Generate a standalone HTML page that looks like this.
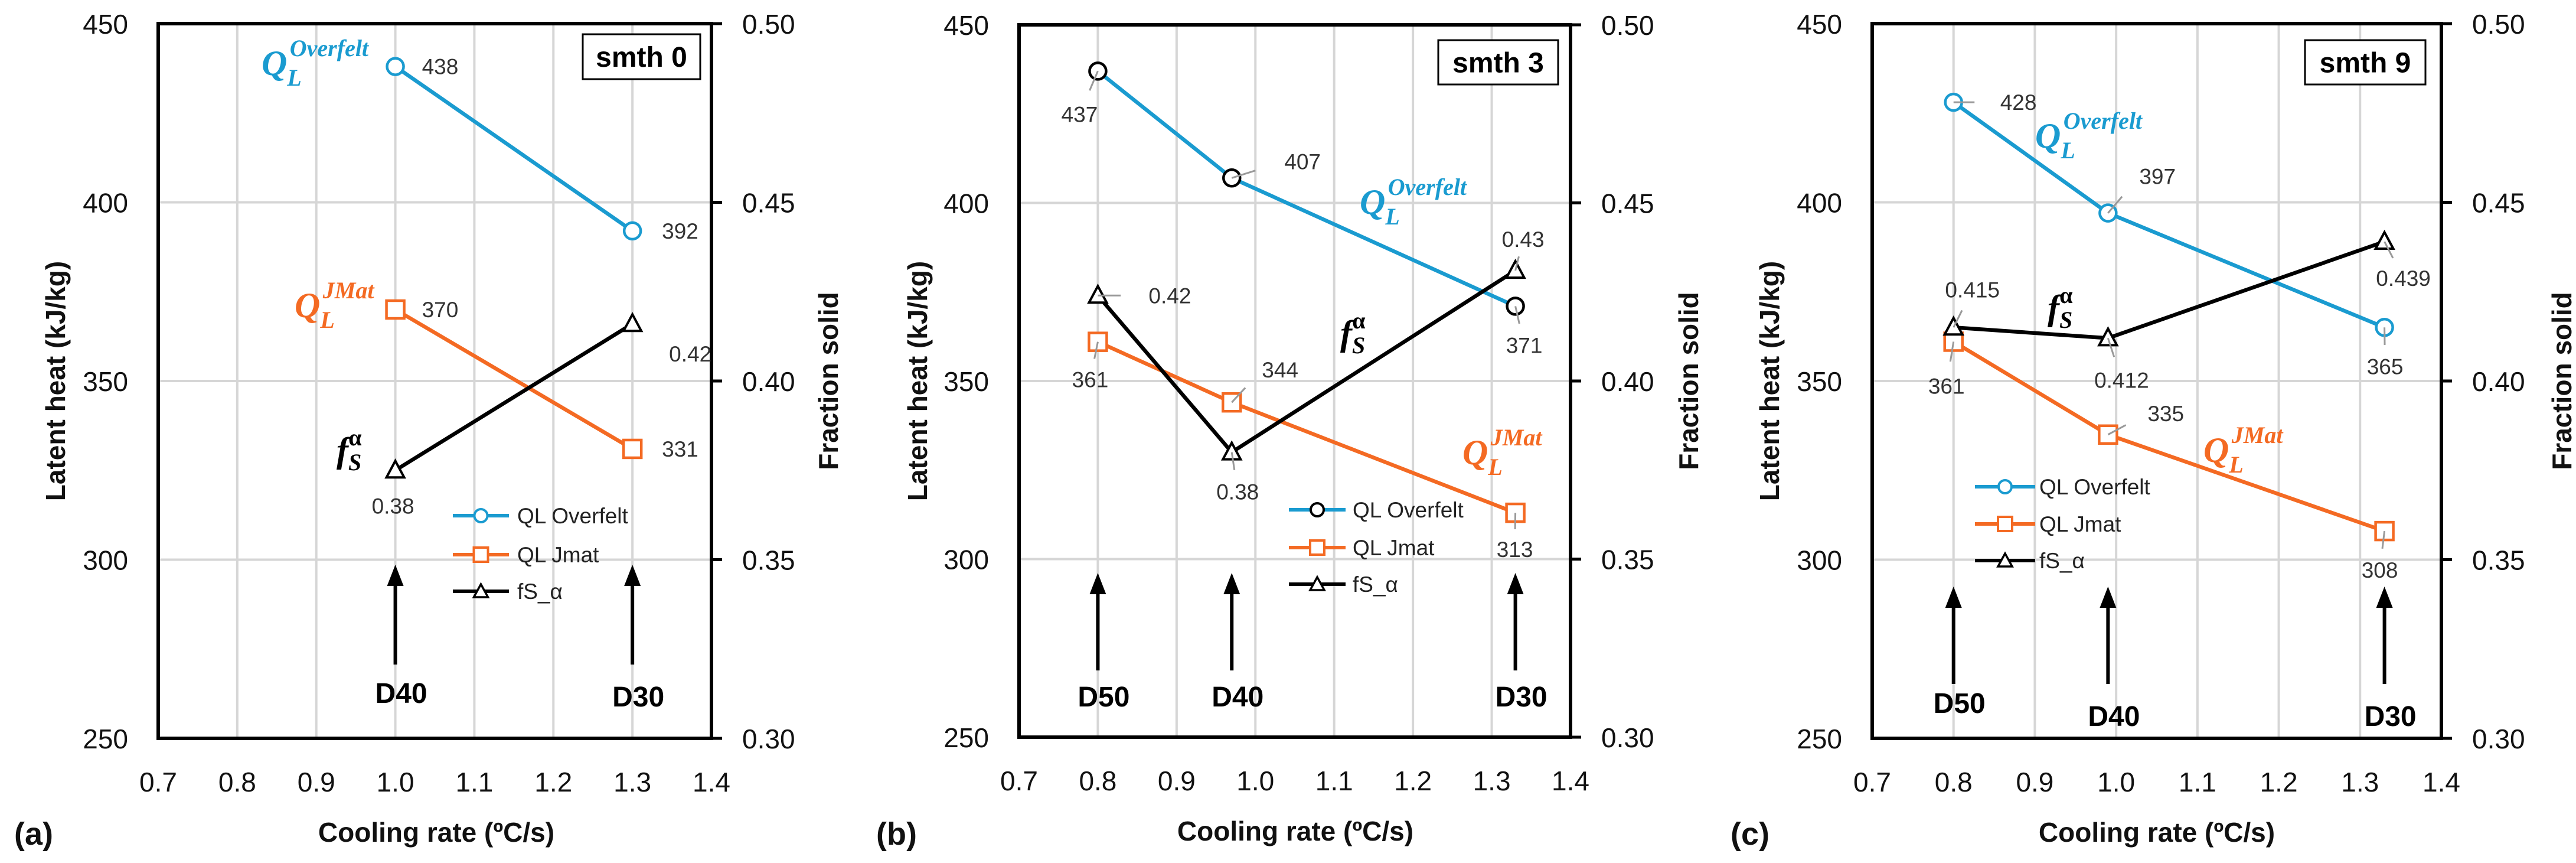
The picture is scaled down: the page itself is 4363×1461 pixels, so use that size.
<!DOCTYPE html>
<html><head><meta charset="utf-8"><style>
html,body{margin:0;padding:0;background:#fff;}
svg{display:block;font-family:"Liberation Sans",sans-serif;}
</style></head><body>
<svg id="fig" width="4363" height="1461" viewBox="0 0 4363 1461"></svg>
<script>
// ---- data ----
const xTicks = [0.7,0.8,0.9,1.0,1.1,1.2,1.3,1.4];
const xTickLabels = ["0.7","0.8","0.9","1.0","1.1","1.2","1.3","1.4"];
const yTicks = [250,300,350,400,450];
const yTickLabels = ["250","300","350","400","450"];
const y2Ticks = [0.30,0.35,0.40,0.45,0.50];
const y2TickLabels = ["0.30","0.35","0.40","0.45","0.50"];

const aRates = [1.0,1.3];
const aOverfelt = [438,392];
const aJmat = [370,331];
const aFs = [0.375,0.416];
const aFsLabels = ["0.38","0.42"];
const aSamples = ["D40","D30"];

const bRates = [0.8,0.97,1.33];
const bOverfelt = [437,407,371];
const bJmat = [361,344,313];
const bFs = [0.424,0.380,0.431];
const bFsLabels = ["0.42","0.38","0.43"];
const bSamples = ["D50","D40","D30"];

const cRates = [0.8,0.99,1.33];
const cOverfelt = [428,397,365];
const cJmat = [361,335,308];
const cFs = [0.415,0.412,0.439];
const cFsLabels = ["0.415","0.412","0.439"];
const cSamples = ["D50","D40","D30"];

const NS="http://www.w3.org/2000/svg";
const svg=document.getElementById('fig');
function el(tag,attrs,parent,text){const e=document.createElementNS(NS,tag);for(const k in attrs)e.setAttribute(k,attrs[k]);if(text!==undefined)e.textContent=text;(parent||svg).appendChild(e);return e;}

const panels=[
 {id:'a',L:268,R:1205,T:40,B:1250,rates:aRates,ov:aOverfelt,jm:aJmat,fs:aFs,fsl:aFsLabels,samples:aSamples,ovColor:'#1a9bd0',
  ovOff:[[45,0],[50,0]],jmOff:[[45,0],[50,0]],fsOff:[[-4,60],[62,51]],lead:false,
  leg:{x1:767,x2:862,tx:876,ys:[873,939,1001]},
  arrows:{top:[956,956],bot:[1125,1125],lab:[1190,1196]},
  box:{x:987,y:58,w:199,h:76,t:'smth 0'},
  qo:{x:443,y:127},qj:{x:499,y:537},f:{x:570,y:782},
  plab:{x:24,t:'(a)'},xt:739,yt:94,y2t:1403},
 {id:'b',L:1726,R:2660,T:42,B:1248,rates:bRates,ov:bOverfelt,jm:bJmat,fs:bFs,fsl:bFsLabels,samples:bSamples,ovColor:'#000',
  ovOff:[[-31,73],[89,-28],[15,66]],jmOff:[[-13,64],[51,-55],[-1,62]],fsOff:[[86,0],[10,67],[13,-53]],lead:true,
  leg:{x1:2183,x2:2279,tx:2291,ys:[863,927,989]},
  arrows:{top:[970,970,970],bot:[1135,1135,1135],lab:[1196,1196,1196]},
  box:{x:2436,y:68,w:203,h:75,t:'smth 3'},
  qo:{x:2303,y:362},qj:{x:2477,y:786},f:{x:2270,y:584},
  plab:{x:1484,t:'(b)'},xt:2194,yt:1554,y2t:2860},
 {id:'c',L:3171,R:4135,T:40,B:1250,rates:cRates,ov:cOverfelt,jm:cJmat,fs:cFs,fsl:cFsLabels,samples:cSamples,ovColor:'#1a9bd0',
  ovOff:[[79,0],[53,-62],[1,66]],jmOff:[[-12,75],[67,-36],[-8,66]],fsOff:[[32,-64],[23,71],[32,62]],lead:true,
  leg:{x1:3345,x2:3447,tx:3454,ys:[824,887,949]},
  arrows:{top:[993,993,993],bot:[1158,1158,1158],lab:[1207,1229,1229]},
  box:{x:3904,y:68,w:204,h:75,t:'smth 9'},
  qo:{x:3447,y:250},qj:{x:3732,y:782},f:{x:3468,y:541},
  plab:{x:2931,t:'(c)'},xt:3653,yt:2997,y2t:4339}
];
const BLUE='#1a9bd0', ORANGE='#f46a23';

panels.forEach(p=>{
 const g=el('g',{});
 
 
 const X=v=>p.L+(v-0.7)/0.7*(p.R-p.L);
 const Y=v=>p.B-(v-250)/200*(p.B-p.T);
 const Y2=v=>p.B-(v-0.3)/0.2*(p.B-p.T);
 // grid
 xTicks.forEach((t,i)=>{ if(i>0&&i<xTicks.length-1){const l=el('line',{x1:X(t),x2:X(t),y1:p.T,y2:p.B,stroke:'#d6d6d6','stroke-width':4},g);
   }
  const tl=el('text',{x:X(t),y:p.B+90,'text-anchor':'middle','font-size':46,fill:'#111'},g,xTickLabels[i]);
  });
 yTicks.forEach((t,i)=>{ if(i>0&&i<yTicks.length-1){const l=el('line',{x1:p.L,x2:p.R,y1:Y(t),y2:Y(t),stroke:'#d6d6d6','stroke-width':4},g);
   }
  const tl=el('text',{x:p.L-51,y:Y(t)+17,'text-anchor':'end','font-size':46,fill:'#111'},g,yTickLabels[i]);
  });
 y2Ticks.forEach((t,i)=>{const tk=el('line',{x1:p.R,x2:p.R+18,y1:Y2(t),y2:Y2(t),stroke:'#000','stroke-width':5},g);
  
  const tl=el('text',{x:p.R+52,y:Y2(t)+17,'font-size':46,fill:'#111'},g,y2TickLabels[i]);
  });
 const frame=el('rect',{x:p.L,y:p.T,width:p.R-p.L,height:p.B-p.T,fill:'none',stroke:'#000','stroke-width':6},g);
 
 // titles
 const xt=el('text',{x:p.xt,y:p.B+175,'text-anchor':'middle','font-size':46,'font-weight':'bold',fill:'#111'},g,'Cooling rate (ºC/s)');
 
 const yt=el('text',{transform:`translate(${p.yt+16},${(p.T+p.B)/2}) rotate(-90)`,'text-anchor':'middle','font-size':46,'font-weight':'bold',fill:'#111'},g,'Latent heat (kJ/kg)');
 
 const y2t=el('text',{transform:`translate(${p.y2t+16},${(p.T+p.B)/2}) rotate(-90)`,'text-anchor':'middle','font-size':46,'font-weight':'bold',fill:'#111'},g,'Fraction solid');
 
 const pl=el('text',{x:p.plab.x,y:1430,'font-size':54,'font-weight':'bold',fill:'#111'},g,p.plab.t);
 
 // arrows
 p.rates.forEach((r,i)=>{const ax=X(r);
  const ln=el('line',{x1:ax,x2:ax,y1:p.arrows.bot[i],y2:p.arrows.top[i]+30,stroke:'#000','stroke-width':6},g);
  
  const hd=el('polygon',{points:`${ax},${p.arrows.top[i]} ${ax-14},${p.arrows.top[i]+36} ${ax+14},${p.arrows.top[i]+36}`,fill:'#000'},g);
  
  const lt=el('text',{x:ax+10,y:p.arrows.lab[i],'text-anchor':'middle','font-size':48,'font-weight':'bold',fill:'#000'},g,p.samples[i]);
  });
 // series
 function series(vals,fy,color,marker,offs,labels,name,mcolor){
  const pts=p.rates.map((r,i)=>[X(r),fy(vals[i])]);
  const pl=el('polyline',{points:pts.map(q=>q.join(',')).join(' '),fill:'none',stroke:color,'stroke-width':6.5},g);
  
  pts.forEach((q,i)=>{
   let m;
   if(marker==='c') m=el('circle',{cx:q[0],cy:q[1],r:14,fill:'#fff',stroke:mcolor,'stroke-width':4.5},g);
   else if(marker==='s') m=el('rect',{x:q[0]-15,y:q[1]-15,width:30,height:30,fill:'#fff',stroke:mcolor,'stroke-width':4.5},g);
   else m=el('polygon',{points:`${q[0]},${q[1]-16} ${q[0]-15},${q[1]+12} ${q[0]+15},${q[1]+12}`,fill:'#fff',stroke:mcolor,'stroke-width':4},g);
   
   const o=offs[i];
   if(p.lead){const ll=el('line',{x1:q[0],y1:q[1],x2:q[0]+o[0]*0.45,y2:q[1]+o[1]*0.45,stroke:'#999','stroke-width':3},g);
    }
   const t=el('text',{x:q[0]+o[0],y:q[1]+o[1]+13,'text-anchor':o[0]>40?'start':'middle','font-size':37,fill:'#333'},g,labels[i]);
   if(o[0]>40) t.setAttribute('x',q[0]+o[0]-(labels[i].length>3?0:0));
   
  });
 }
 series(p.ov,Y,p.id==='b'?BLUE:BLUE,'c',p.ovOff,p.ov.map(String),'ql-overfelt',p.ovColor);
 series(p.jm,Y,ORANGE,'s',p.jmOff,p.jm.map(String),'ql-jmat',ORANGE);
 series(p.fs,Y2,'#000','t',p.fsOff,p.fsl,'fs-alpha','#000');
 // legend
 const legItems=[['QL Overfelt',BLUE,'c',p.ovColor],['QL Jmat',ORANGE,'s',ORANGE],['fS_α','#000','t','#000']];
 legItems.forEach((it,i)=>{const y=p.leg.ys[i],mx=(p.leg.x1+p.leg.x2)/2;
  const lg=el('g',{},g);
  el('line',{x1:p.leg.x1,x2:p.leg.x2,y1:y,y2:y,stroke:it[1],'stroke-width':6},lg);
  if(it[2]==='c') el('circle',{cx:mx,cy:y,r:11,fill:'#fff',stroke:it[3],'stroke-width':4},lg);
  else if(it[2]==='s') el('rect',{x:mx-12,y:y-12,width:24,height:24,fill:'#fff',stroke:it[3],'stroke-width':4},lg);
  else el('polygon',{points:`${mx},${y-12} ${mx-12},${y+10} ${mx+12},${y+10}`,fill:'#fff',stroke:'#000','stroke-width':3.5},lg);
  el('text',{x:p.leg.tx,y:y+13,'font-size':37,fill:'#222'},lg,it[0]);});
 // smth box
 const bx=el('g',{},g);
 el('rect',{x:p.box.x,y:p.box.y,width:p.box.w,height:p.box.h,fill:'#fff',stroke:'#000','stroke-width':3},bx);
 el('text',{x:p.box.x+p.box.w/2,y:p.box.y+p.box.h/2+17,'text-anchor':'middle','font-size':48,'font-weight':'bold'},bx,p.box.t);
 // math annotations
 function qann(pos,sup,color,name){const t=el('text',{x:pos.x,y:pos.y,'font-family':'Liberation Serif, serif','font-style':'italic','font-weight':'bold',fill:color,'font-size':60},g);
  
  el('tspan',{},t,'Q');
  el('tspan',{dy:18,'font-size':40},t,'L');
  el('tspan',{dx:-20,dy:-50,'font-size':40},t,sup);}
 qann(p.qo,'Overfelt',BLUE,'ql-overfelt-annotation');
 qann(p.qj,'JMat',ORANGE,'ql-jmat-annotation');
 const fa=el('text',{x:p.f.x,y:p.f.y,'font-family':'Liberation Serif, serif','font-style':'italic','font-weight':'bold',fill:'#000','font-size':60},g);
 
 el('tspan',{},fa,'f');el('tspan',{dy:14,'font-size':40},fa,'S');el('tspan',{dx:-22,dy:-42,'font-size':40,'font-style':'normal'},fa,'α');
});
</script>
</body></html>
